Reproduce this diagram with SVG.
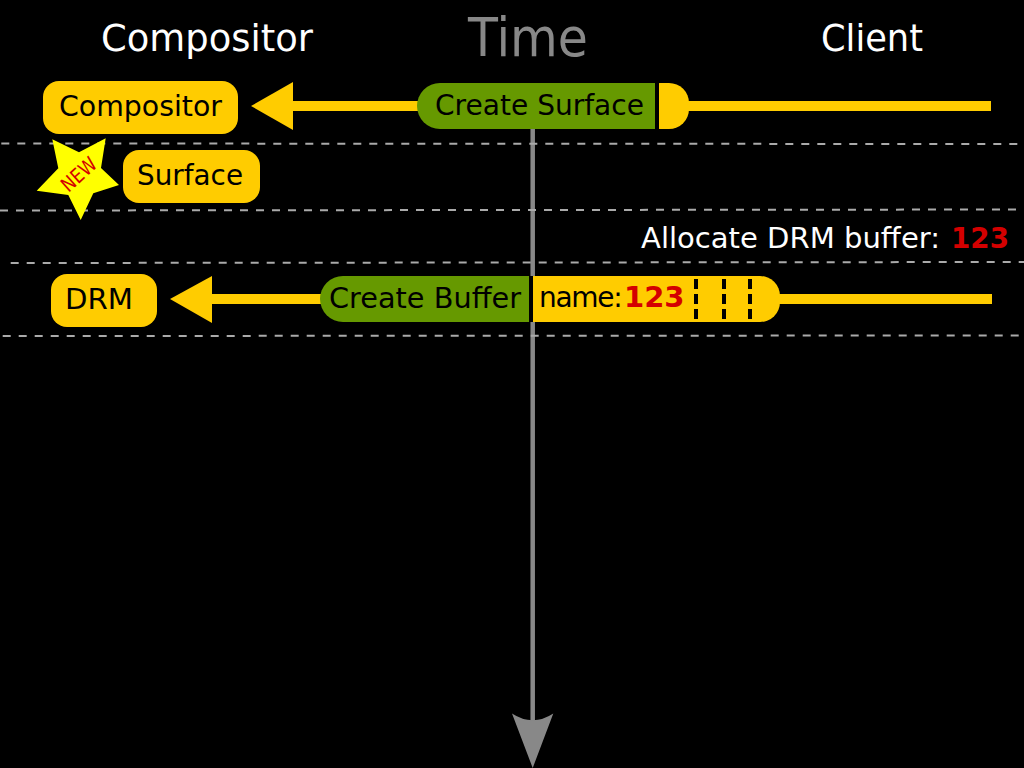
<svg xmlns="http://www.w3.org/2000/svg" width="1024" height="768" viewBox="0 0 1024 768">
<style>
text{font-family:"DejaVu Sans",sans-serif;fill:#000}
.h{font-size:38px;fill:#fff}
.n{font-size:29px}
.w{font-size:29px;fill:#fff}
.red{fill:#d40000;font-weight:bold;font-size:29px}
.sep{stroke:#aaa;stroke-width:2;stroke-dasharray:8 8;fill:none}
.y{fill:#ffcc00}
.g{fill:#669900}
.wire{stroke:#ffcc00;stroke-width:10;fill:none}
</style>
<rect width="1024" height="768" fill="#000"/>
<g id="connectors">
<path class="wire" d="M292 106H991M211 299H992"/>
<polygon class="y" points="251,106 293,82 293,130"/>
<polygon class="y" points="170,299 212,276 212,323"/>
<path d="M532.700 125V725" stroke="#888" stroke-width="4.500" fill="none"/>
<path d="M512 713.500Q532.700 727 553.300 713.500L532.700 768Z" fill="#888"/>
</g>
<g id="separators">
<path class="sep" d="M1.300 143.500L1024 144"/>
<path class="sep" d="M0 210.500L1024 209.500"/>
<path class="sep" d="M10.700 263L1024 262"/>
<path class="sep" d="M2.700 336L1024 335.500"/>
</g>
<text class="h" x="101" y="51" textLength="212" lengthAdjust="spacingAndGlyphs">Compositor</text>
<text x="468" y="56" textLength="120" lengthAdjust="spacingAndGlyphs" style="font-size:53px;fill:#888">Time</text>
<text class="h" x="821" y="51" textLength="102" lengthAdjust="spacingAndGlyphs">Client</text>
<g id="compositor"><rect class="y" x="43" y="81" width="195" height="53" rx="16"/><text class="n" x="59" y="116" textLength="163" lengthAdjust="spacingAndGlyphs">Compositor</text></g>
<g id="surface"><rect class="y" x="123" y="150" width="137" height="53" rx="16"/><text class="n" x="137" y="185" textLength="106" lengthAdjust="spacingAndGlyphs">Surface</text></g>
<g id="new-star"><polygon points="52.300,139.300 79,152.300 105.700,138.300 101,168 119,185 93.300,193.300 80.700,220 68.300,195 36.700,190.700 58.300,168.300" fill="#ffff00"/><text x="59" y="182" transform="rotate(-42 78 175)" textLength="40" lengthAdjust="spacingAndGlyphs" style="font-size:20px;fill:#d40000">NEW</text></g>
<g id="drm"><rect class="y" x="51" y="274" width="106" height="53" rx="16"/><text class="n" x="65" y="309" textLength="68" lengthAdjust="spacingAndGlyphs">DRM</text></g>
<g id="create-surface">
<rect class="y" x="640" y="83" width="49" height="46" rx="20"/>
<path class="g" d="M440 83H655V129H440A23 23 0 0 1 440 83Z"/>
<rect x="655" y="83" width="4" height="46" fill="#000"/>
<text class="n" x="435" y="115" textLength="209" lengthAdjust="spacingAndGlyphs">Create Surface</text>
</g>
<g id="allocate"><text class="w" x="641" y="248" textLength="299" lengthAdjust="spacingAndGlyphs">Allocate DRM buffer:</text><text class="red" x="951" y="248" textLength="58" lengthAdjust="spacingAndGlyphs">123</text></g>
<g id="create-buffer">
<rect class="y" x="500" y="276" width="280" height="46" rx="20"/>
<path class="g" d="M343 276H529V322H343A23 23 0 0 1 343 276Z"/>
<rect x="529" y="276" width="4" height="46" fill="#000"/>
<text class="n" x="329" y="308" textLength="192" lengthAdjust="spacingAndGlyphs">Create Buffer</text>
<text x="539" y="307" style="font-size:28px;letter-spacing:-1.300px">name:<tspan class="red" x="624" style="letter-spacing:0">123</tspan></text>
<path d="M696 279V319M724 279V319M750 279V319" stroke="#000" stroke-width="4" stroke-dasharray="10 5" fill="none"/>
</g>
</svg>
